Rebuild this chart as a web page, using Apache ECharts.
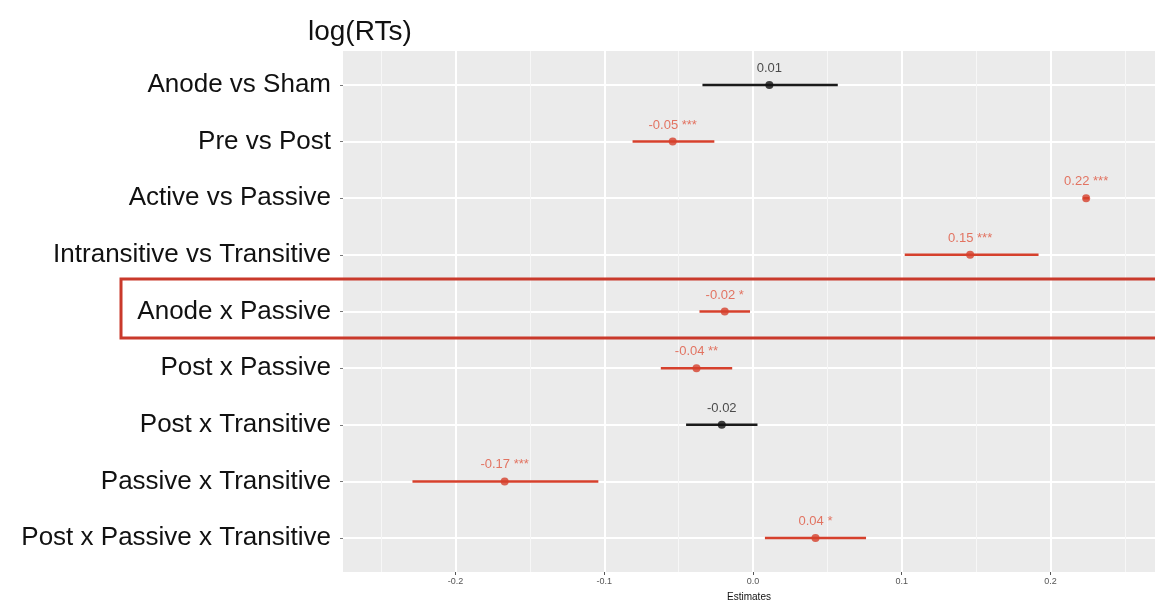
<!DOCTYPE html>
<html>
<head>
<meta charset="utf-8">
<script src="https://cdn.jsdelivr.net/npm/echarts@6/dist/echarts.min.js"></script>
<style>
html,body{margin:0;padding:0;background:#fff;}
#chart{width:1155px;height:602px;}
</style>
</head>
<body>
<div id="chart"></div>
<script>
// ---- data ----
var categories = [
  'Anode vs Sham',
  'Pre vs Post',
  'Active vs Passive',
  'Intransitive vs Transitive',
  'Anode x Passive',
  'Post x Passive',
  'Post x Transitive',
  'Passive x Transitive',
  'Post x Passive x Transitive'
];
var estimates = [0.011, -0.054, 0.224, 0.146, -0.019, -0.038, -0.021, -0.167, 0.042];
var ciLow     = [-0.034, -0.081, 0.222, 0.102, -0.036, -0.062, -0.045, -0.229, 0.008];
var ciHigh    = [0.057, -0.026, 0.226, 0.192, -0.002, -0.014, 0.003, -0.104, 0.076];
var valueLabels = ['0.01', '-0.05 ***', '0.22 ***', '0.15 ***', '-0.02 *', '-0.04 **', '-0.02', '-0.17 ***', '0.04 *'];
var significant = [false, true, true, true, true, true, false, true, true];
var xTicks = [-0.2, -0.1, 0, 0.1, 0.2];
var xMinorTicks = [-0.25, -0.15, -0.05, 0.05, 0.15, 0.25];
var yTicks = [1, 2, 3, 4, 5, 6, 7, 8, 9];

var RED = '#d6402c';
var RED_TEXT = '#e0553f';
var BLACK = '#111111';

var rows = categories.map(function (c, i) {
  return [estimates[i], i + 1, ciLow[i], ciHigh[i], i];
});

var chart = echarts.init(document.getElementById('chart'));
var option = {
  backgroundColor: '#ffffff',
  animation: false,
  title: {
    text: 'log(RTs)',
    left: 303,
    top: 13,
    textStyle: { fontFamily: 'Liberation Sans, Arial, sans-serif', fontSize: 28, fontWeight: 'normal', color: '#111' }
  },
  grid: { left: 343, top: 51, right: 0, bottom: 30, outerBoundsMode: 'none', containLabel: false, show: true, backgroundColor: '#ebebeb', borderWidth: 0 },
  xAxis: {
    type: 'value',
    min: -0.2757,
    max: 0.2703,
    name: 'Estimates',
    nameLocation: 'middle',
    nameGap: 20,
    nameTextStyle: { fontFamily: 'Liberation Sans, Arial, sans-serif', fontSize: 10, color: '#111' },
    axisLine: { show: false, onZero: false },
    axisTick: { show: true, customValues: xTicks, length: 3, lineStyle: { color: '#555' } },
    axisLabel: {
      customValues: xTicks,
      margin: 5,
      fontFamily: 'Liberation Sans, Arial, sans-serif',
      fontSize: 9,
      color: '#555',
      formatter: function (v) { return v.toFixed(1); }
    },
    splitLine: { show: true, lineStyle: { color: '#ffffff', width: 2 } }
  },
  yAxis: {
    type: 'value',
    min: 0.4,
    max: 9.6,
    inverse: true,
    axisLine: { show: false, onZero: false },
    axisTick: { show: true, customValues: yTicks, length: 3, lineStyle: { color: '#777' } },
    axisLabel: {
      customValues: yTicks,
      margin: 12,
      fontFamily: 'Liberation Sans, Arial, sans-serif',
      fontSize: 26,
      color: '#111',
      formatter: function (v) { return categories[Math.round(v) - 1] || ''; }
    },
    splitLine: { show: true, lineStyle: { color: '#ffffff', width: 2 } }
  },
  series: [
    {
      type: 'line',
      data: [],
      silent: true,
      z: 1,
      markLine: {
        silent: true,
        z: 1,
        zlevel: 0,
        symbol: 'none',
        animation: false,
        label: { show: false },
        lineStyle: { color: '#f7f7f7', width: 1, type: 'solid' },
        data: xMinorTicks.map(function (v) { return { xAxis: v }; })
      }
    },
    {
      type: 'custom',
      z: 10,
      data: rows,
      renderItem: function (params, api) {
        var lo = api.coord([api.value(2), api.value(1)]);
        var hi = api.coord([api.value(3), api.value(1)]);
        var idx = api.value(4);
        return {
          type: 'line',
          shape: { x1: lo[0], y1: lo[1], x2: hi[0], y2: hi[1] },
          style: { stroke: significant[idx] ? RED : '#1a1a1a', lineWidth: 2.5 }
        };
      }
    },
    {
      type: 'scatter',
      z: 11,
      symbolSize: 8,
      data: rows.map(function (r, i) {
        return {
          value: [r[0], r[1]],
          itemStyle: { color: significant[i] ? RED : BLACK },
          label: {
            show: true,
            position: 'top',
            distance: 6,
            formatter: valueLabels[i],
            fontFamily: 'Liberation Sans, Arial, sans-serif',
            fontSize: 13,
            color: significant[i] ? RED_TEXT : '#222'
          }
        };
      })
    }
  ],
  graphic: [
    {
      type: 'rect',
      z: 100,
      shape: { x: 121, y: 279, width: 1100, height: 59 },
      style: { fill: 'none', stroke: '#c9392b', lineWidth: 3 }
    }
  ]
};
chart.setOption(option);
</script>
</body>
</html>
